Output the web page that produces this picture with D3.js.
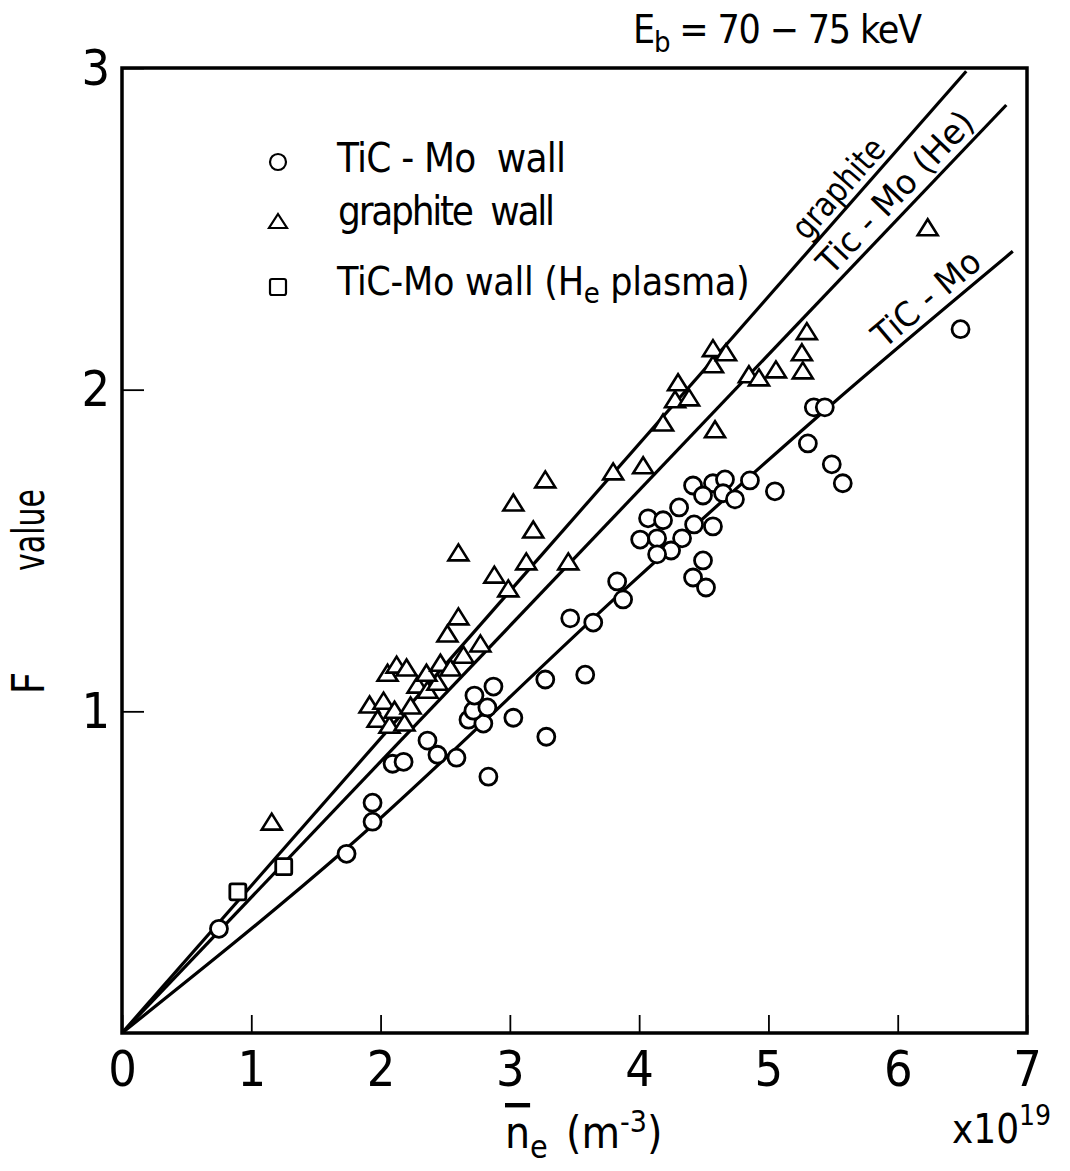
<!DOCTYPE html>
<html>
<head>
<meta charset="utf-8">
<script src="https://cdn.jsdelivr.net/npm/d3@7"></script>
<style>
body { margin: 0; background: #fff; }
text { font-stretch: condensed; }
</style>
</head>
<body>
<div id="chart"></div>
<script>
// TiC-Mo wall (circles)
var ticMoWall = [
  [0.75, 0.324], [1.737, 0.557], [1.938, 0.716], [1.938, 0.657], [2.093, 0.837],
  [2.178, 0.843], [2.363, 0.909], [2.44, 0.865], [2.587, 0.856], [2.834, 0.797],
  [3.027, 0.98], [3.282, 0.921], [3.274, 1.099], [2.68, 0.974], [2.795, 0.962],
  [2.718, 1.002], [2.826, 1.012], [2.726, 1.049], [2.873, 1.077], [3.583, 1.114],
  [3.467, 1.289], [3.645, 1.276], [3.83, 1.404], [3.876, 1.348], [4.008, 1.534],
  [4.139, 1.538], [4.332, 1.538], [4.247, 1.5], [4.139, 1.488], [4.069, 1.6],
  [4.185, 1.594], [4.309, 1.634], [4.425, 1.581], [4.571, 1.575], [4.494, 1.469],
  [4.417, 1.416], [4.517, 1.385], [4.417, 1.702], [4.571, 1.709], [4.664, 1.721],
  [4.857, 1.718], [4.494, 1.671], [4.649, 1.678], [4.741, 1.659], [5.05, 1.684],
  [5.305, 1.833], [5.351, 1.945], [5.436, 1.945], [5.49, 1.768], [5.575, 1.709],
  [6.486, 2.188]
]
// graphite wall (triangles)
var graphiteWall = [
  [1.158, 0.654], [1.915, 1.018], [2.023, 1.03], [1.977, 0.974], [2.069, 0.955],
  [2.108, 1.002], [2.185, 0.962], [2.232, 1.015], [2.054, 1.117], [2.124, 1.142],
  [2.201, 1.133], [2.286, 1.08], [2.363, 1.064], [2.44, 1.089], [2.355, 1.117],
  [2.463, 1.148], [2.541, 1.133], [2.641, 1.173], [2.517, 1.239], [2.602, 1.292],
  [2.772, 1.208], [2.602, 1.491], [2.88, 1.422], [2.988, 1.379], [3.127, 1.463],
  [3.181, 1.562], [3.027, 1.646], [3.274, 1.718], [3.452, 1.463], [3.799, 1.743],
  [4.031, 1.762], [4.185, 1.895], [4.278, 1.967], [4.386, 1.973], [4.301, 2.02],
  [4.587, 1.874], [4.571, 2.076], [4.571, 2.126], [4.672, 2.113], [4.849, 2.045],
  [4.927, 2.035], [5.058, 2.06], [5.266, 2.057], [5.259, 2.113], [5.297, 2.179],
  [6.232, 2.502]
]
// TiC-Mo wall, He plasma (squares)
var ticMoHePlasma = [[0.896, 0.439], [1.251, 0.517]]

// fitted lines
var fitGraphite = [[0, 0], [6.53, 2.99]]
var fitTicMoHe = [[0, 0], [6.84, 2.885]]
var fitTicMo = [[0, 0], [1.74, 0.575], [3.88, 1.376], [5.5, 1.958], [6.89, 2.43]]

var xTicks = [0, 1, 2, 3, 4, 5, 6, 7]
var yTicks = [1, 2, 3]

var font = "'DejaVu Sans Condensed','DejaVu Sans',sans-serif"

var svg = d3.select("#chart")
    .append("svg")
    .attr("width", 1070)
    .attr("height", 1171)
    .style("font-family", font)

var x = d3.scaleLinear().domain([0, 7]).range([122, 1027])
var y = d3.scaleLinear().domain([0, 3]).range([1033, 68])

// axes
svg.append("g")
    .attr("transform", "translate(0," + y(0) + ")")
    .call(d3.axisBottom(x).tickValues(xTicks).tickFormat(d3.format("d")).tickSize(-18).tickPadding(17))
    .call(g => {
        g.select(".domain").remove()
        g.selectAll("line").attr("stroke", "#000").attr("stroke-width", 1.8)
        g.selectAll("text").attr("fill", "#000").attr("font-size", 50).style("font-family", font)
    })

svg.append("g")
    .attr("transform", "translate(" + x(0) + ",0)")
    .call(d3.axisLeft(y).tickValues(yTicks).tickFormat(d3.format("d")).tickSize(-22).tickPadding(12))
    .call(g => {
        g.select(".domain").remove()
        g.selectAll("line").attr("stroke", "#000").attr("stroke-width", 1.8)
        g.selectAll("text").attr("fill", "#000").attr("font-size", 50).style("font-family", font)
    })

// frame
svg.append("rect")
    .attr("x", x(0)).attr("y", y(3))
    .attr("width", x(7) - x(0)).attr("height", y(0) - y(3))
    .attr("fill", "none").attr("stroke", "#000").attr("stroke-width", 3.5)

// lines
var line = d3.line().x(d => x(d[0])).y(d => y(d[1])).curve(d3.curveMonotoneX)
var fits = [
    { pts: fitGraphite, label: "graphite", at: [5.538, 2.627], len: 122 },
    { pts: fitTicMoHe, label: "Tic - Mo (He)", at: [5.98, 2.614], len: 210 },
    { pts: fitTicMo, label: "TiC - Mo", at: [6.22, 2.284], len: 130 }
]
fits.forEach(f => {
    svg.append("path")
        .attr("d", line(f.pts))
        .attr("fill", "none").attr("stroke", "#000").attr("stroke-width", 3.2)
    var a = f.pts[f.pts.length - 2], b = f.pts[f.pts.length - 1]
    var ang = Math.atan2(y(b[1]) - y(a[1]), x(b[0]) - x(a[0])) * 180 / Math.PI
    svg.append("text")
        .attr("transform", "translate(" + x(f.at[0]) + "," + y(f.at[1]) + ") rotate(" + ang + ")")
        .attr("text-anchor", "middle")
        .attr("dy", "0.35em")
        .attr("font-size", 34)
        .attr("textLength", f.len).attr("lengthAdjust", "spacingAndGlyphs")
        .text(f.label)
})

// points
var tri = "M0,-9L10,7L-10,7Z"
svg.append("g").selectAll("path")
    .data(graphiteWall).enter().append("path")
    .attr("d", tri)
    .attr("transform", d => "translate(" + x(d[0]) + "," + y(d[1]) + ")")
    .attr("fill", "#fff").attr("stroke", "#000").attr("stroke-width", 2.6)

svg.append("g").selectAll("circle")
    .data(ticMoWall).enter().append("circle")
    .attr("cx", d => x(d[0])).attr("cy", d => y(d[1])).attr("r", 8.5)
    .attr("fill", "#fff").attr("stroke", "#000").attr("stroke-width", 2.8)

svg.append("g").selectAll("rect")
    .data(ticMoHePlasma).enter().append("rect")
    .attr("x", d => x(d[0]) - 8).attr("y", d => y(d[1]) - 8)
    .attr("width", 16).attr("height", 16).attr("rx", 2)
    .attr("fill", "#fff").attr("stroke", "#000").attr("stroke-width", 2.8)

// legend
var leg = svg.append("g")
leg.append("circle").attr("cx", 278).attr("cy", 162).attr("r", 8)
    .attr("fill", "none").attr("stroke", "#000").attr("stroke-width", 2.2)
leg.append("path").attr("d", "M0,-8L9,6L-9,6Z").attr("transform", "translate(278,222)")
    .attr("fill", "none").attr("stroke", "#000").attr("stroke-width", 2.2)
leg.append("rect").attr("x", 270).attr("y", 279).attr("width", 16).attr("height", 16).attr("rx", 2)
    .attr("fill", "none").attr("stroke", "#000").attr("stroke-width", 2.2)

leg.append("text").attr("x", 337).attr("y", 172).attr("font-size", 40)
    .attr("xml:space", "preserve")
    .attr("textLength", 229).attr("lengthAdjust", "spacing")
    .text("TiC - Mo  wall")
leg.append("text").attr("x", 338).attr("y", 225).attr("font-size", 40)
    .attr("xml:space", "preserve")
    .attr("textLength", 217).attr("lengthAdjust", "spacing")
    .text("graphite  wall")
var t3 = leg.append("text").attr("x", 337).attr("y", 295).attr("font-size", 39)
    .attr("letter-spacing", -0.3)
t3.append("tspan").text("TiC-Mo wall (H")
t3.append("tspan").attr("dy", 8).attr("font-size", 29).text("e")
t3.append("tspan").attr("dy", -8).text(" plasma)")

// title
var tt = svg.append("text").attr("x", 633).attr("y", 43).attr("font-size", 39)
    .attr("letter-spacing", -1.2)
tt.append("tspan").text("E")
tt.append("tspan").attr("dy", 9).attr("font-size", 29).text("b")
tt.append("tspan").attr("dy", -9).text(" = 70 \u2212 75 keV")

// y label
svg.append("text")
    .attr("transform", "translate(44,683) rotate(-90)")
    .attr("text-anchor", "middle")
    .attr("font-size", 44)
    .text("F")
svg.append("text")
    .attr("transform", "translate(44,530) rotate(-90)")
    .attr("text-anchor", "middle")
    .attr("font-size", 44)
    .attr("textLength", 82).attr("lengthAdjust", "spacingAndGlyphs")
    .text("value")

// x label
var xl = svg.append("text").attr("x", 505).attr("y", 1148).attr("font-size", 44)
xl.append("tspan").style("text-decoration", "overline").text("n")
xl.append("tspan").attr("dy", 10).attr("font-size", 32).text("e")
xl.append("tspan").attr("dy", -10).attr("x", 566).text("(m")
xl.append("tspan").attr("dy", -16).attr("font-size", 30).text("-3")
xl.append("tspan").attr("dy", 16).text(")")

var xm = svg.append("text").attr("x", 952).attr("y", 1143).attr("font-size", 40)
xm.append("tspan").text("x10")
xm.append("tspan").attr("dy", -18).attr("font-size", 28).text("19")
</script>
</body>
</html>
